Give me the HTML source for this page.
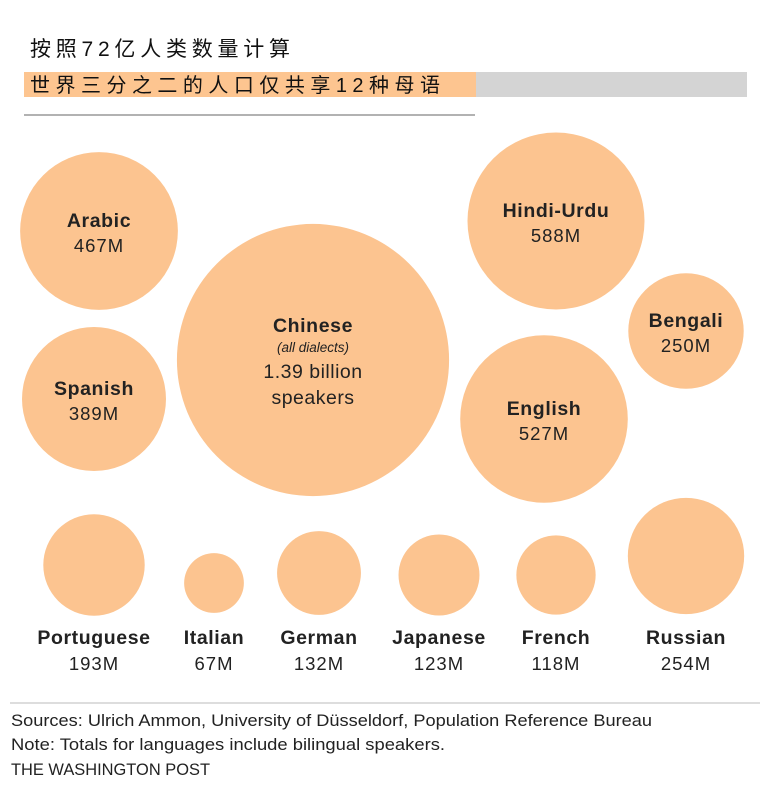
<!DOCTYPE html>
<html><head><meta charset="utf-8"><style>
body{margin:0;background:#fff;width:777px;height:787px;overflow:hidden;font-family:"Liberation Sans","Noto Sans CJK SC",sans-serif;}
svg{position:absolute;left:0;top:0}
</style></head><body>
<svg id="chart" width="777" height="787">
<text x="30" y="56" font-size="21" fill="#111" font-family="'Liberation Sans','Noto Sans CJK SC',sans-serif" textLength="260" lengthAdjust="spacing">按照72亿人类数量计算</text>
<rect x="24" y="72" width="452" height="25" fill="#fdc590"/>
<rect x="476" y="72" width="271" height="25" fill="#d4d4d4"/>
<text x="30" y="92" font-size="20" fill="#111" font-family="'Liberation Sans','Noto Sans CJK SC',sans-serif" textLength="410" lengthAdjust="spacing">世界三分之二的人口仅共享12种母语</text>
<line x1="24" y1="115" x2="475" y2="115" stroke="#999" stroke-width="1.5"/>
<line x1="10" y1="703" x2="760" y2="703" stroke="#bbb" stroke-width="1"/>
<text x="11" y="726" font-size="16.5" fill="#222" textLength="641" lengthAdjust="spacingAndGlyphs">Sources: Ulrich Ammon, University of Düsseldorf, Population Reference Bureau</text>
<text x="11" y="750" font-size="16.5" fill="#222" textLength="434" lengthAdjust="spacingAndGlyphs">Note: Totals for languages include bilingual speakers.</text>
<text x="11" y="775" font-size="16.5" fill="#222" textLength="199" lengthAdjust="spacingAndGlyphs">THE WASHINGTON POST</text>
</svg>
<script>
const languages=["Arabic","Chinese","Spanish","Hindi-Urdu","Bengali","English","Portuguese","Italian","German","Japanese","French","Russian"];
const speakers=[467,1390,389,588,250,527,193,67,132,123,118,254];
const valueLabels=["467M","1.39 billion","389M","588M","250M","527M","193M","67M","132M","123M","118M","254M"];
const layout=[[99,231,"in"],[313,360,"in"],[94,399,"in"],[556,221,"in"],[686,331,"in"],[544,419,"in"],[94,565,"out"],[214,583,"out"],[319,573,"out"],[439,575,"out"],[556,575,"out"],[686,556,"out"]];
const rScale=v=>3.65*Math.sqrt(v);
const svg=document.getElementById('chart');
const NS="http://www.w3.org/2000/svg";
function txt(x,y,s,size,weight,style,name,ls){
  const t=document.createElementNS(NS,'text');
  t.setAttribute('x',x);t.setAttribute('y',y);t.setAttribute('text-anchor','middle');
  t.setAttribute('font-size',size);t.setAttribute('fill','#222');
  if(weight)t.setAttribute('font-weight',weight);
  if(style)t.setAttribute('font-style',style);
  if(ls)t.setAttribute('letter-spacing',ls);
  t.textContent=s;
  
  
  svg.appendChild(t);
}
languages.forEach((lang,i)=>{
  const [cx,cy,mode]=layout[i];
  const r=rScale(speakers[i]);
  const c=document.createElementNS(NS,'circle');
  c.setAttribute('cx',cx);c.setAttribute('cy',cy);c.setAttribute('r',r);c.setAttribute('fill','#fcc490');
  
  
  svg.appendChild(c);
  const key=lang.toLowerCase();
  if(lang==="Chinese"){
    txt(cx,cy-28,lang,19.5,'bold',null,'label-'+key,0.6);
    txt(cx,cy-8,"(all dialects)",13.5,null,'italic','label-'+key+'-note');
    txt(cx,cy+18,valueLabels[i],19.5,null,null,'value-'+key,0.5);
    txt(cx,cy+44,"speakers",19.5,null,null,'value-'+key+'-unit',0.5);
  }else if(mode==="in"){
    txt(cx,cy-4,lang,19.5,'bold',null,'label-'+key,0.6);
    txt(cx,cy+21,valueLabels[i],18.5,null,null,'value-'+key,1);
  }else{
    txt(cx,644,lang,19.5,'bold',null,'label-'+key,0.6);
    txt(cx,670,valueLabels[i],18.5,null,null,'value-'+key,1);
  }
});
</script>
</body></html>
